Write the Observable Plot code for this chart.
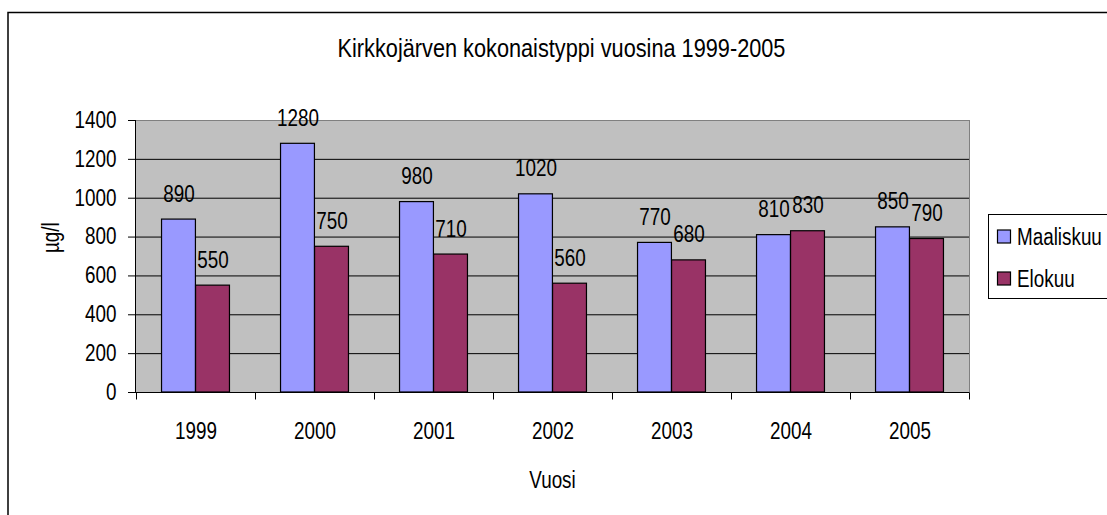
<!DOCTYPE html>
<html><head><meta charset="utf-8">
<script src="https://cdn.jsdelivr.net/npm/d3@7"></script>
<script src="https://cdn.jsdelivr.net/npm/@observablehq/plot@0.6"></script>
<style>
html,body{margin:0;padding:0;background:#fff;overflow:hidden;}
</style></head><body><div id="chart"></div>
<script>
const title = "Kirkkojärven kokonaistyppi vuosina 1999-2005";
const years = ["1999","2000","2001","2002","2003","2004","2005"];
const seriesNames = ["Maaliskuu","Elokuu"];
const maaliskuu = [890,1280,980,1020,770,810,850];
const elokuu = [550,750,710,560,680,830,790];
const yTicks = [0,200,400,600,800,1000,1200,1400];
const colors = ["#9999ff","#993366"];
const xLabel = "Vuosi";
const yLabel = "µg/l";

const rows = years.flatMap((y, i) => [
  {year: y, series: seriesNames[0], value: maaliskuu[i]},
  {year: y, series: seriesNames[1], value: elokuu[i]}
]);
const FONT = "'Liberation Sans Narrow','Arial Narrow','Liberation Sans',Arial,sans-serif";
const FS = 23;
const NARROW = 0.82;

const W = 1107, H = 515;
const mL = 135, mR = 138, mT = 120, mB = 123;
const bw = (W - mL - mR) / years.length;
const barW = bw / 3.5;
const outer = barW * 0.75;

const s0 = rows.filter(d => d.series === seriesNames[0]);
const s1 = rows.filter(d => d.series === seriesNames[1]);

const plot = Plot.plot({
  width: W, height: H,
  marginLeft: mL, marginRight: mR, marginTop: mT, marginBottom: mB,
  style: {fontFamily: FONT, fontSize: FS + "px", color: "#000", background: "#fff"},
  x: {type: "band", domain: years, padding: 0},
  y: {domain: [0, 1400]},
  color: {domain: seriesNames, range: colors},
  marks: [
    Plot.frame({fill: "#c0c0c0", stroke: "#808080"}),
    Plot.gridY(yTicks.filter(t => t > 0 && t < 1400), {stroke: "#000", strokeOpacity: 1}),
    Plot.barY(s0, {x: "year", y: "value", fill: "series", stroke: "#000", strokeWidth: 1.2, insetLeft: outer, insetRight: bw - outer - barW}),
    Plot.barY(s1, {x: "year", y: "value", fill: "series", stroke: "#000", strokeWidth: 1.2, insetLeft: outer + barW, insetRight: outer}),
    Plot.text(s0, {x: "year", y: "value", text: d => String(d.value), dx: -barW / 2, dy: -18, lineAnchor: "bottom", fontSize: FS}),
    Plot.text(s1, {x: "year", y: "value", text: d => String(d.value), dx: barW / 2, dy: -18, lineAnchor: "bottom", fontSize: FS}),
    Plot.ruleY([0], {stroke: "#000"}),
    Plot.axisY({ticks: yTicks, tickSize: 7, tickPadding: 12, label: null, fontSize: FS, tickFormat: d => String(d)}),
    Plot.axisX({tickSize: 0, tickPadding: 30, label: null, fontSize: FS}),
    Plot.text([xLabel], {frameAnchor: "bottom", dy: 95, lineAnchor: "bottom", fontSize: FS}),
    Plot.text([yLabel], {frameAnchor: "left", dx: -84, rotate: -90, fontSize: FS}),
    Plot.text([title], {frameAnchor: "top", dx: 9, dy: -64, lineAnchor: "bottom", fontSize: 26.5})
  ]
});

document.getElementById("chart").appendChild(plot);
const svg = d3.select(plot);
const xs = plot.scale("x");
const ys = plot.scale("y");
const y0 = ys.apply(0);
const yTop = ys.apply(1400);

// left axis line
svg.append("line").attr("x1", mL + 0.5).attr("x2", mL + 0.5).attr("y1", yTop).attr("y2", y0 + 0.5)
  .attr("stroke", "#000");
// category boundary ticks
const bounds = years.map(y => xs.apply(y)).concat([xs.apply(years[years.length - 1]) + xs.bandwidth]);
svg.append("g").selectAll("line").data(bounds).join("line")
  .attr("x1", d => Math.round(d) + 0.5).attr("x2", d => Math.round(d) + 0.5)
  .attr("y1", y0 + 0.5).attr("y2", y0 + 7.5).attr("stroke", "#000");

// outer chart border
svg.append("rect").attr("x", 8).attr("y", 12.5).attr("width", 1300).attr("height", 700)
  .attr("fill", "none").attr("stroke", "#000").attr("stroke-width", 1.5);

// legend
const lg = svg.append("g").attr("font-family", FONT).attr("font-size", FS).attr("text-anchor", "start");
lg.append("rect").attr("x", 988.5).attr("y", 214.5).attr("width", 200).attr("height", 84)
  .attr("fill", "#fff").attr("stroke", "#000");
seriesNames.forEach((name, i) => {
  const cy = 237 + i * 42;
  lg.append("rect").attr("x", 997.5).attr("y", cy - 7).attr("width", 13).attr("height", 13)
    .attr("fill", colors[i]).attr("stroke", "#000").attr("stroke-width", 1.2);
  lg.append("text").attr("x", 1017).attr("y", cy + 8).text(name);
});

// emulate a narrow (Arial Narrow-like) face: condense each text around its anchor point
plot.querySelectorAll("text").forEach(t => {
  const r = t.getBoundingClientRect();
  if (!r.width) return;
  const rotated = (t.getAttribute("transform") || "").includes("rotate");
  const anchor = getComputedStyle(t).textAnchor;
  let sx = anchor === "end" ? r.right : anchor === "start" ? r.left : (r.left + r.right) / 2;
  if (rotated) sx = (r.left + r.right) / 2;
  const sy = (r.top + r.bottom) / 2;
  const parent = t.parentNode;
  const p = new DOMPoint(sx, sy).matrixTransform(parent.getScreenCTM().inverse());
  const g = document.createElementNS("http://www.w3.org/2000/svg", "g");
  const sc = rotated ? `scale(1,${NARROW})` : `scale(${NARROW},1)`;
  g.setAttribute("transform", `translate(${p.x},${p.y}) ${sc} translate(${-p.x},${-p.y})`);
  parent.insertBefore(g, t);
  g.appendChild(t);
});
</script>
</body></html>
